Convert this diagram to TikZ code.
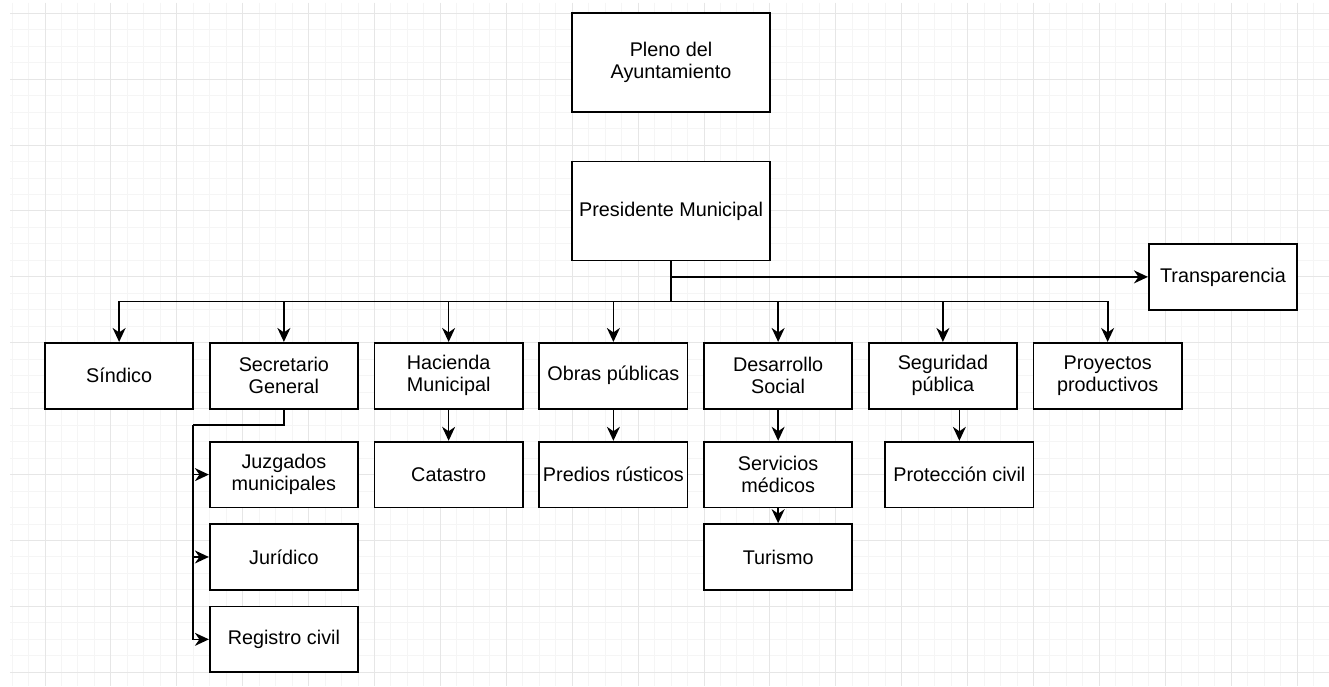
\documentclass[tikz,border=0pt]{standalone}
\usepackage{fontspec}
\setmainfont{Liberation Sans}
\usetikzlibrary{arrows.meta}
\begin{document}
\begin{tikzpicture}[x=16.475pt,y=-16.475pt,
  box/.style={draw=black, line width=1.7pt, fill=white, minimum width=148.3pt, minimum height=65.9pt, inner sep=0pt, align=center, font=\fontsize{19.8}{22}\selectfont},
  bigbox/.style={box, minimum width=197.7pt, minimum height=98.85pt},
  arr/.style={line width=1.7pt, -{Stealth[length=14pt,width=13pt,inset=4.5pt]}},
  conn/.style={line width=1.7pt},
  minorgrid/.style={draw={rgb,255:red,245;green,245;blue,245}, line width=1pt},
  majorgrid/.style={draw={rgb,255:red,230;green,230;blue,230}, line width=1pt}]
\useasboundingbox (-2.7314,-0.8073) rectangle (77.936,40.832);
\fill[white] (-2.7314,-0.8073) rectangle (77.936,40.832);
% grid
\foreach \i in {-2,-1,...,77} { \draw[minorgrid] (\i,-0.6252) -- (\i,40.832); }
\foreach \j in {0,1,...,40} { \draw[minorgrid] (-2.1244,\j) -- (77.936,\j); }
\foreach \i in {0,4,...,76} { \draw[majorgrid] (\i,-0.6252) -- (\i,40.832); }
\foreach \j in {0,4,...,40} { \draw[majorgrid] (-2.1244,\j) -- (77.936,\j); }

% nodes
\node[bigbox] (pleno) at (38,3) {Pleno del\\Ayuntamiento};
\node[bigbox] (pres) at (38,12) {Presidente Municipal};
\node[box] (transp) at (71.5,16) {Transparencia};
\node[box] (sind) at (4.5,22) {Síndico};
\node[box] (sec) at (14.5,22) {Secretario\\General};
\node[box] (hac) at (24.5,22) {Hacienda\\Municipal};
\node[box] (obras) at (34.5,22) {Obras públicas};
\node[box] (des) at (44.5,22) {Desarrollo\\Social};
\node[box] (seg) at (54.5,22) {Seguridad\\pública};
\node[box] (proy) at (64.5,22) {Proyectos\\productivos};
\node[box] (juz) at (14.5,28) {Juzgados\\municipales};
\node[box] (cat) at (24.5,28) {Catastro};
\node[box] (pred) at (34.5,28) {Predios rústicos};
\node[box] (serv) at (44.5,28) {Servicios\\médicos};
\node[box] (prot) at (55.5,28) {Protección civil};
\node[box] (tur) at (44.5,33) {Turismo};
\node[box] (jur) at (14.5,33) {Jurídico};
\node[box] (reg) at (14.5,38) {Registro civil};

% coordinates
\coordinate (bus) at (38,17.5);
\coordinate (tbr) at (38,16);
\coordinate (secb) at (14.5,25);
\coordinate (sect) at (9,25);

% connectors
\draw[conn] (pres.south) -- (bus);
\draw[arr] (tbr) -- (transp.west);
\foreach \n in {sind,sec,hac,obras,des,seg,proy} { \draw[arr] (bus) -| (\n.north); }
\draw[arr] (hac.south) -- (cat.north);
\draw[arr] (obras.south) -- (pred.north);
\draw[arr] (des.south) -- (serv.north);
\draw[arr] (serv.south) -- (tur.north);
\draw[arr] (prot.north |- seg.south) -- (prot.north);
\draw[conn] (sec.south) -- (secb) -- (sect);
\foreach \n in {juz,jur,reg} { \draw[arr] (sect) |- (\n.west); }
\end{tikzpicture}
\end{document}
